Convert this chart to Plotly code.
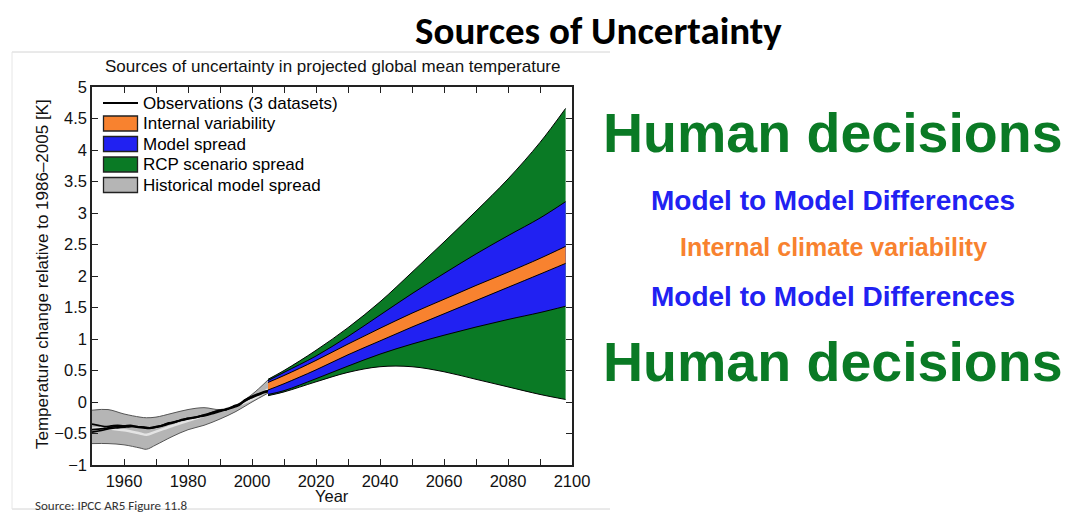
import plotly.graph_objects as go

# ---------------- data ----------------
obs_years = [1950, 1952, 1954, 1956, 1958, 1960, 1962, 1964, 1966, 1968, 1970, 1972, 1974, 1976, 1978,
             1980, 1982, 1984, 1986, 1988, 1990, 1992, 1994, 1996, 1998, 2000, 2002, 2004, 2006, 2008, 2010]
obs_a = [-0.35, -0.37, -0.39, -0.38, -0.37, -0.38, -0.37, -0.39, -0.40, -0.41, -0.39, -0.37, -0.33, -0.32, -0.28,
         -0.26, -0.25, -0.22, -0.20, -0.16, -0.13, -0.12, -0.07, -0.03, 0.04, 0.09, 0.13, 0.17, 0.19, 0.18, 0.19]
obs_b = [-0.48, -0.46, -0.44, -0.42, -0.41, -0.40, -0.39, -0.39, -0.40, -0.41, -0.40, -0.37, -0.34, -0.31, -0.29,
         -0.26, -0.24, -0.22, -0.19, -0.16, -0.14, -0.11, -0.08, -0.04, 0.02, 0.08, 0.12, 0.16, 0.18, 0.17, 0.18]
obs_c = [-0.44, -0.43, -0.42, -0.40, -0.39, -0.39, -0.38, -0.40, -0.41, -0.42, -0.40, -0.38, -0.35, -0.32, -0.29,
         -0.27, -0.25, -0.23, -0.21, -0.18, -0.15, -0.12, -0.09, -0.05, 0.03, 0.07, 0.11, 0.15, 0.17, 0.16, 0.18]

hist_years = [1950, 1955, 1960, 1965, 1967, 1970, 1975, 1980, 1985, 1990, 1995, 2000, 2005]
hist_upper = [-0.13, -0.12, -0.19, -0.24, -0.25, -0.24, -0.18, -0.12, -0.09, -0.12, -0.05, 0.12, 0.35]
hist_lower = [-0.66, -0.66, -0.68, -0.73, -0.75, -0.68, -0.55, -0.44, -0.37, -0.27, -0.15, 0.00, 0.14]
hist_mean = [-0.42, -0.42, -0.45, -0.50, -0.52, -0.47, -0.38, -0.30, -0.22, -0.14, -0.06, 0.04, 0.20]

proj_years = [2005, 2010, 2020, 2030, 2040, 2050, 2060, 2070, 2080, 2090, 2098]
rcp_upper = [0.36, 0.50, 0.82, 1.18, 1.59, 2.06, 2.54, 3.03, 3.54, 4.12, 4.66]
model_upper = [0.34, 0.47, 0.73, 1.04, 1.38, 1.72, 2.04, 2.35, 2.64, 2.92, 3.18]
internal_upper = [0.31, 0.42, 0.66, 0.92, 1.17, 1.41, 1.63, 1.85, 2.06, 2.28, 2.47]
internal_lower = [0.19, 0.29, 0.51, 0.75, 0.97, 1.19, 1.40, 1.61, 1.82, 2.03, 2.20]
model_lower = [0.12, 0.18, 0.37, 0.57, 0.76, 0.92, 1.06, 1.19, 1.31, 1.42, 1.52]
rcp_lower = [0.10, 0.16, 0.32, 0.47, 0.56, 0.56, 0.48, 0.36, 0.24, 0.12, 0.04]

x_tickvals = list(range(1950, 2101, 10))
x_ticktext = ["" if (v % 20 or v == 1950) else str(v) for v in x_tickvals]
y_tickvals = [-1, -0.5, 0, 0.5, 1, 1.5, 2, 2.5, 3, 3.5, 4, 4.5, 5]
y_ticktext = ["\u22121", "\u22120.5", "0", "0.5", "1", "1.5", "2", "2.5", "3", "3.5", "4", "4.5", "5"]

legend_labels = ["Observations (3 datasets)", "Internal variability", "Model spread",
                 "RCP scenario spread", "Historical model spread"]

right_texts = ["Human decisions", "Model to Model Differences", "Internal climate variability",
               "Model to Model Differences", "Human decisions"]

# ---------------- style ----------------
GREEN = "#0a7a25"
BLUE = "#2121f2"
ORANGE = "#f8822f"
GRAY = "#b5b5b5"
FONT = "Liberation Sans, Arial, sans-serif"

L, R, T, B = 92, 572, 87, 465
W, H = 1069, 513


def PX(p):
    return (p - L) / (R - L)


def PY(p):
    return (B - p) / (B - T)


fig = go.Figure()


def band(x, lo, hi, color, edge="black"):
    fig.add_trace(go.Scatter(x=x, y=lo, mode="lines", line=dict(color=edge, width=1, shape="spline"),
                             showlegend=False, hoverinfo="skip"))
    fig.add_trace(go.Scatter(x=x, y=hi, mode="lines", line=dict(color=edge, width=1, shape="spline"),
                             fill="tonexty", fillcolor=color, showlegend=False, hoverinfo="skip"))


band(hist_years, hist_lower, hist_upper, GRAY, edge="#555555")
fig.add_trace(go.Scatter(x=hist_years, y=hist_mean, mode="lines",
                         line=dict(color="#e4e4e4", width=2.5, shape="spline"), showlegend=False))
for obs in (obs_a, obs_b, obs_c):
    fig.add_trace(go.Scatter(x=obs_years, y=obs, mode="lines",
                             line=dict(color="black", width=1.7, shape="spline"), showlegend=False))

band(proj_years, rcp_lower, rcp_upper, GREEN)
band(proj_years, model_lower, model_upper, BLUE)
band(proj_years, internal_lower, internal_upper, ORANGE)

shapes = []
annotations = []

# manual legend
row_y = [103, 123.5, 144, 164.5, 185]
swatch_colors = [None, ORANGE, BLUE, GREEN, GRAY]
for lab, yy, col in zip(legend_labels, row_y, swatch_colors):
    if col is None:
        shapes.append(dict(type="line", xref="paper", yref="paper", x0=PX(103), x1=PX(138),
                           y0=PY(yy), y1=PY(yy), line=dict(color="black", width=2)))
    else:
        shapes.append(dict(type="rect", xref="paper", yref="paper", x0=PX(103.5), x1=PX(137.5),
                           y0=PY(yy - 7.5), y1=PY(yy + 7.5), fillcolor=col,
                           line=dict(color="#222222", width=1.3)))
    annotations.append(dict(text=lab, xref="paper", yref="paper", x=PX(141), y=PY(yy),
                            xanchor="left", yanchor="middle", showarrow=False,
                            font=dict(family=FONT, size=17, color="black")))

# image frame lines
frame_col = "#d4d4d4"
shapes.append(dict(type="line", xref="paper", yref="paper", x0=PX(12), x1=PX(610), y0=PY(52), y1=PY(52),
                   line=dict(color=frame_col, width=1)))
shapes.append(dict(type="line", xref="paper", yref="paper", x0=PX(12), x1=PX(610), y0=PY(509), y1=PY(509),
                   line=dict(color=frame_col, width=1)))
shapes.append(dict(type="line", xref="paper", yref="paper", x0=PX(12), x1=PX(12), y0=PY(52), y1=PY(509),
                   line=dict(color="#e6e6e6", width=1)))

# chart title and axis titles
annotations.append(dict(text="Sources of uncertainty in projected global mean temperature",
                        xref="paper", yref="paper", x=PX(332), y=PY(67), xanchor="center", yanchor="middle",
                        showarrow=False, font=dict(family=FONT, size=17, color="#111111")))
annotations.append(dict(text="Year", xref="paper", yref="paper", x=PX(332), y=PY(496),
                        xanchor="center", yanchor="middle", showarrow=False,
                        font=dict(family=FONT, size=16.5, color="#111111")))
annotations.append(dict(text="Temperature change relative to 1986\u20132005 [K]", xref="paper", yref="paper",
                        x=PX(42), y=PY(274), xanchor="center", yanchor="middle", textangle=-90,
                        showarrow=False, font=dict(family=FONT, size=17, color="#111111")))

# slide title and source
annotations.append(dict(text="<b>Sources of Uncertainty</b>", xref="paper", yref="paper", x=PX(598), y=PY(30),
                        xanchor="center", yanchor="middle", showarrow=False,
                        font=dict(family="Carlito, Lato, sans-serif", size=39, color="black")))
annotations.append(dict(text="Source: IPCC AR5 Figure 11.8", xref="paper", yref="paper", x=PX(33), y=PY(505),
                        xanchor="left", yanchor="middle", showarrow=False,
                        font=dict(family="Carlito, Lato, sans-serif", size=13, color="#333333")))

# right-hand texts
right_y = [133, 200, 247, 296, 362]
right_size = [55.5, 28, 25, 28, 55.5]
right_col = [GREEN, BLUE, ORANGE, BLUE, GREEN]
for txt, yy, sz, col in zip(right_texts, right_y, right_size, right_col):
    annotations.append(dict(text="<b>" + txt + "</b>", xref="paper", yref="paper", x=PX(833), y=PY(yy),
                            xanchor="center", yanchor="middle", showarrow=False,
                            font=dict(family=FONT, size=sz, color=col)))

axis_common = dict(showline=True, linecolor="#222222", linewidth=1.5, mirror="ticks", ticks="inside",
                   ticklen=6, tickwidth=1, tickcolor="#222222", showgrid=False, zeroline=False,
                   tickfont=dict(family=FONT, size=16.5, color="#111111"))

fig.update_layout(
    width=W, height=H,
    margin=dict(l=L, r=W - R, t=T, b=H - B, autoexpand=False),
    paper_bgcolor="white", plot_bgcolor="white",
    showlegend=False,
    xaxis=dict(range=[1950, 2100], tickmode="array", tickvals=x_tickvals, ticktext=x_ticktext, **axis_common),
    yaxis=dict(range=[-1, 5], tickmode="array", tickvals=y_tickvals, ticktext=y_ticktext, **axis_common),
    shapes=shapes,
    annotations=annotations,
)

fig.write_html("out.html", config={"displayModeBar": False},
               post_script="document.body.style.margin='0px';document.body.style.overflow='hidden';")
